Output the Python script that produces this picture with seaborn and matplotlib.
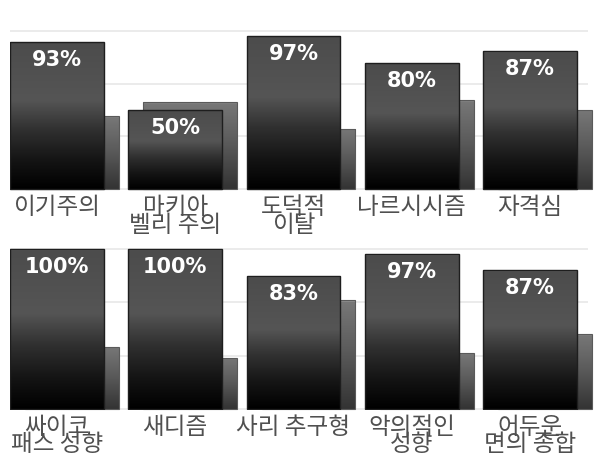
import numpy as np
import matplotlib
matplotlib.use('Agg')
import matplotlib.pyplot as plt
from matplotlib.colors import LinearSegmentedColormap
import seaborn as sns

# data
categories_top = ['이기주의', '마키아\n벨리 주의', '도덕적\n이탈', '나르시시즘', '자격심']
front_top = [93, 50, 97, 80, 87]
back_top = [46, 55, 38, 56, 50]

categories_bottom = ['싸이코\n패스 성향', '새디즘', '사리 추구형', '악의적인\n성향', '어두운\n면의 종합']
front_bottom = [100, 100, 83, 97, 87]
back_bottom = [39, 32, 68, 35, 47]

sns.set_style('white')
plt.rcParams['font.family'] = ['Noto Sans CJK KR', 'DejaVu Sans']

front_cmap = LinearSegmentedColormap.from_list('front', [
    (0.0, '#707070'), (0.012, '#4c4c4c'), (0.4, '#555555'),
    (0.6, '#303030'), (0.8, '#151515'), (1.0, '#000000')])
back_cmap = LinearSegmentedColormap.from_list('back', [
    (0.0, '#c8c8c8'), (0.015, '#777777'), (0.45, '#5c5c5c'), (1.0, '#333333')])

BAR_W = 0.792
SHIFT = 0.127


def gradient_fill(ax, patches, cmap, z):
    grad = np.linspace(0, 1, 256).reshape(-1, 1)
    for p in patches:
        x, y, w, h = p.get_x(), p.get_y(), p.get_width(), p.get_height()
        im = ax.imshow(grad, cmap=cmap, vmin=0, vmax=1, aspect='auto',
                       extent=[x, x + w, y, y + h], origin='upper',
                       zorder=z, interpolation='bilinear')
        im.set_clip_path(p)
        p.set_facecolor('none')


def draw_row(ax, cats, front, back):
    pos = np.arange(len(cats))

    n0 = len(ax.patches)
    sns.barplot(x=pos + SHIFT, y=back, native_scale=True, orient='x', width=BAR_W,
                color='#5c5c5c', edgecolor='#5a5a5a', linewidth=0.8, ax=ax,
                zorder=1.1)
    back_patches = ax.patches[n0:]
    for p in back_patches:
        p.set_clip_on(False)
    gradient_fill(ax, back_patches, back_cmap, 1.0)

    n1 = len(ax.patches)
    sns.barplot(x=pos, y=front, native_scale=True, orient='x', width=BAR_W,
                color='#444444', edgecolor='#1e1e1e', linewidth=1.0, ax=ax,
                zorder=1.3)
    front_patches = ax.patches[n1:]
    gradient_fill(ax, front_patches, front_cmap, 1.2)

    for p, v in zip(front_patches, front):
        ax.annotate(f'{v}%', xy=(p.get_x() + p.get_width() / 2, v),
                    xytext=(0, -8), textcoords='offset pixels',
                    ha='center', va='top', color='white', fontsize=15,
                    fontweight='bold', family='DejaVu Sans', zorder=3)

    ax.set_xlim(-0.396, 4.492)
    ax.set_ylim(-1, 102)
    ax.set_yticks([0, 100 / 3, 200 / 3, 100])
    ax.set_yticklabels([])
    ax.yaxis.grid(True, color='#e8e8e8', linewidth=1.2)
    ax.set_axisbelow(True)
    ax.set_xticks(pos)
    ax.set_xticklabels(cats, fontsize=17, color='#505050', linespacing=0.7,
                       fontweight='light',
                       family=['Noto Sans CJK KR', 'DejaVu Sans'])
    ax.tick_params(axis='both', length=0)
    ax.tick_params(axis='x', pad=4)
    ax.set_xlabel('')
    ax.set_ylabel('')
    for s in ax.spines.values():
        s.set_visible(False)


fig = plt.figure(figsize=(5.97, 4.70), dpi=100)
ax_top = fig.add_axes([0.01675, 0.5945, 0.9687, 0.3464])
ax_bot = fig.add_axes([0.01675, 0.1270, 0.9687, 0.3494])

draw_row(ax_top, categories_top, front_top, back_top)
draw_row(ax_bot, categories_bottom, front_bottom, back_bottom)

fig.savefig('out.png', dpi=100)
